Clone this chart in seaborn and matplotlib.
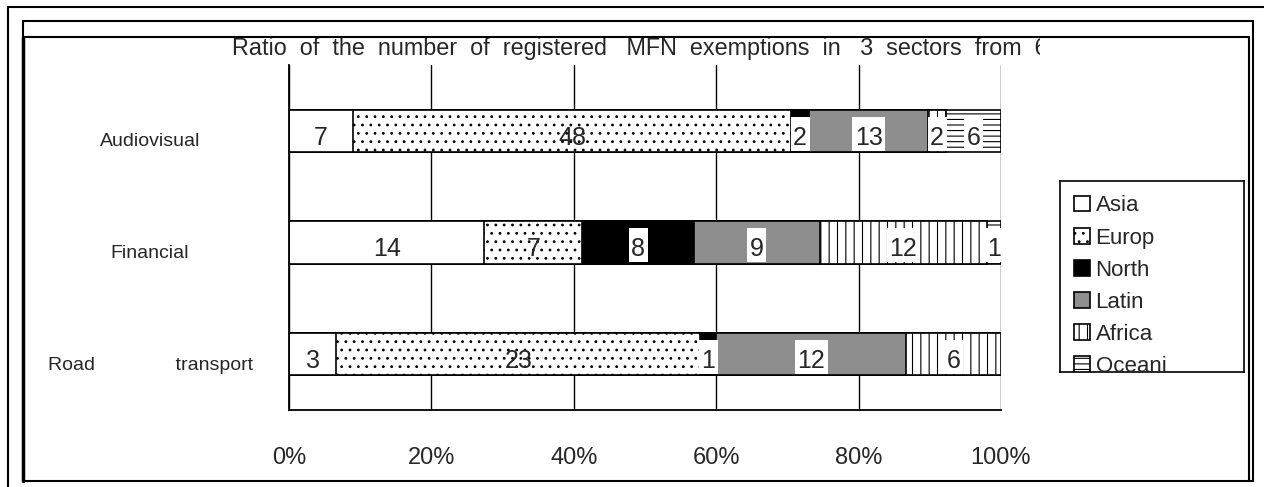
import pandas as pd
import matplotlib
matplotlib.use('Agg')
import matplotlib.pyplot as plt
from matplotlib.lines import Line2D
from matplotlib.path import Path
from matplotlib.transforms import ScaledTranslation
import seaborn as sns

# Data
sectors = ['Audiovisual', 'Financial', 'Road transport']
sector_labels = ['Audiovisual', 'Financial', 'Road               transport']
regions = ['Asia', 'Europ', 'North', 'Latin', 'Africa', 'Oceani']
asia = [7, 14, 3]
europe = [48, 7, 23]
north = [2, 8, 1]
latin = [13, 9, 12]
africa = [2, 12, 6]
oceania = [6, 1, 0]
x_ticks = [0, 20, 40, 60, 80, 100]
x_tick_labels = ['0%', '20%', '40%', '60%', '80%', '100%']

counts = pd.DataFrame({'Asia': asia, 'Europ': europe, 'North': north,
                       'Latin': latin, 'Africa': africa, 'Oceani': oceania},
                      index=sectors)
pct = counts.div(counts.sum(axis=1), axis=0) * 100
cum = pct.cumsum(axis=1)

sns.set_style('white')
plt.rcParams['font.family'] = ['Liberation Sans', 'DejaVu Sans']
plt.rcParams['hatch.linewidth'] = 0.8

W, H = 1264, 487
fig = plt.figure(figsize=(W / 100, H / 100), dpi=100)
ax = fig.add_axes([289 / W, 1 - 410 / H, 712 / W, 345 / H])

styles = {'Asia': ('white', ''), 'Europ': ('white', '..'), 'North': ('black', ''),
          'Latin': ('#8e8e8e', ''), 'Africa': ('white', '||'), 'Oceani': ('white', '---')}

# stacked bars: draw cumulative totals from the right-most segment down
for reg in reversed(regions):
    d = pd.DataFrame({'sector': sectors, 'value': cum[reg].values})
    fc, h = styles[reg]
    sns.barplot(data=d, x='value', y='sector', orient='h', color=fc, saturation=1,
                hatch=h, edgecolor='black', linewidth=1.2, width=0.38,
                label=reg, ax=ax)
handles, labels = ax.get_legend_handles_labels()
if ax.get_legend() is not None:
    ax.get_legend().remove()


# narrow but tall label box, like the Excel data labels
def tall_box(x0, y0, width, height, mutation_size):
    px = 0.1 * mutation_size
    top = 0.35 * mutation_size
    bot = 0.04 * mutation_size
    return Path([(x0 - px, y0 - bot), (x0 + width + px, y0 - bot),
                 (x0 + width + px, y0 + height + top), (x0 - px, y0 + height + top),
                 (x0 - px, y0 - bot)], closed=True)


# value labels
for i, s in enumerate(sectors):
    for reg in regions:
        n = counts.loc[s, reg]
        if n == 0:
            continue
        xc = cum.loc[s, reg] - pct.loc[s, reg] / 2
        box = None
        if reg != 'Europ':
            box = dict(boxstyle=tall_box, facecolor='white', edgecolor='none')
        ax.text(xc, i + 0.06, str(n), ha='center', va='center', fontsize=18, bbox=box)

ax.set_xlim(0, 100)
ax.set_ylim(2.5, -0.59)
ax.set_xticks(x_ticks)
ax.set_xticklabels(x_tick_labels, fontsize=17)
ax.set_yticks(range(len(sectors)))
ax.set_yticklabels(sector_labels, fontsize=14, ha='center')
ax.set_yticks([-0.59, 0.5, 1.5], minor=True)
ax.tick_params(axis='x', length=0, pad=27)
ax.tick_params(axis='y', which='major', length=0, pad=100)
ax.tick_params(axis='y', which='minor', direction='in', length=7, width=1.2, color='black')
for lab in ax.get_yticklabels():
    lab.set_transform(lab.get_transform() + ScaledTranslation(0, -0.09, fig.dpi_scale_trans))
ax.set_xlabel('')
ax.set_ylabel('')
ax.set_axisbelow(True)
ax.xaxis.grid(True, color='black', linewidth=1)
for side in ['top', 'right']:
    ax.spines[side].set_visible(False)
for side in ['left', 'bottom']:
    ax.spines[side].set_color('black')
    ax.spines[side].set_linewidth(1.3)

# legend inside a box that cuts off its last entry
lax = fig.add_axes([1060 / W, 1 - 372 / H, 184 / W, 191 / H])
lax.set_xticks([])
lax.set_yticks([])
for sp in lax.spines.values():
    sp.set_color('black')
    sp.set_linewidth(1.2)
leg = lax.legend(handles[::-1], labels[::-1], loc='upper left', fontsize=16,
                 handlelength=0.7, handleheight=0.7, handletextpad=0.25,
                 labelspacing=0.5, borderpad=0.55, borderaxespad=0.1,
                 frameon=False)
for t in leg.get_texts():
    t.set_clip_box(lax.bbox)
    t.set_clip_on(True)
for hnd in leg.legend_handles:
    hnd.set_clip_box(lax.bbox)
    hnd.set_clip_on(True)

# title, clipped on the right as in the original
tax = fig.add_axes([0, 1 - 72 / H, 1040 / W, 48 / H])
tax.axis('off')
tax.text(232 / 1040, 0.5, 'Ratio  of  the  number  of  registered   MFN  exemptions  in   3  sectors  from  6  regions',
         transform=tax.transAxes, ha='left', va='center', fontsize=16.8, clip_on=True)

# frame lines around the picture
def px_line(x0, y0, x1, y1, lw=1.5):
    fig.add_artist(Line2D([x0 / W, x1 / W], [1 - y0 / H, 1 - y1 / H],
                          transform=fig.transFigure, color='black', linewidth=lw))

px_line(8, 7, W, 7)
px_line(8, 7, 8, H)
px_line(23, 21, 1253, 21)
px_line(1253, 21, 1253, 481)
px_line(23, 481, 1253, 481)
px_line(23, 21, 23, 37)
px_line(23, 37, 23, 481, lw=2.5)
px_line(23, 37, 1249, 37)
px_line(1249, 37, 1249, 481)

fig.savefig('out.png', dpi=100)
